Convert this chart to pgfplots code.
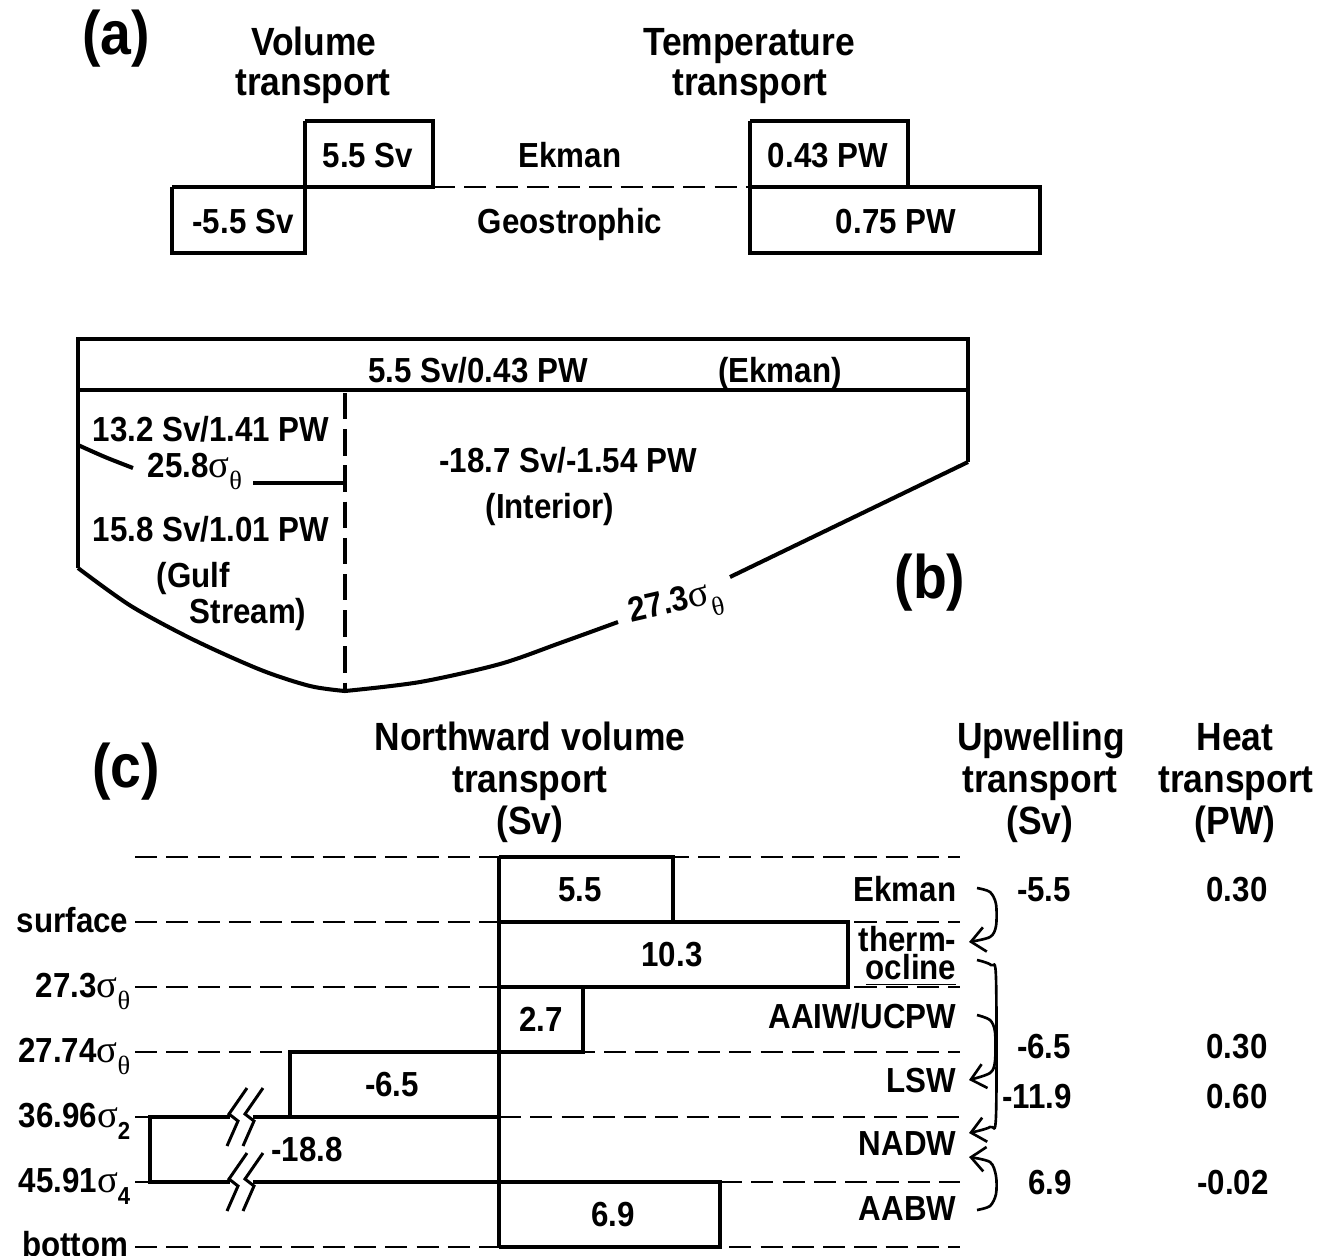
\documentclass[border=0pt]{standalone}
\usepackage{pgfplots}
\pgfplotsset{compat=1.18}
\usetikzlibrary{arrows.meta}
\usepackage{fontspec}
\setmainfont{Liberation Sans}[FakeStretch=0.9]
\newfontfamily\gr{Liberation Serif}
\newcommand{\sgt}{{\gr\mdseries\fontsize{11}{12}\selectfont σ}\raisebox{-3.6pt}{\fontsize{7.5}{8}\selectfont\gr\mdseries θ}}
\newcommand{\sgn}[1]{{\gr\mdseries\fontsize{11}{12}\selectfont σ}\raisebox{-3.6pt}{\fontsize{7}{8}\selectfont\bfseries #1}}
\tikzset{
  lab/.style={font=\fontsize{9.9}{11}\selectfont\bfseries, inner sep=0pt},
  hdr/.style={font=\fontsize{11.2}{12}\selectfont\bfseries, inner sep=0pt},
  big/.style={font=\fontsize{17.5}{19}\selectfont\bfseries, inner sep=0pt},
}
\pgfplotsset{
  box/.style={black, line width=1.15pt, line join=miter, mark=none},
  dsh/.style={black, line width=0.8pt, dash pattern=on 6.3pt off 2.6pt, mark=none},
  dshb/.style={black, line width=0.9pt, dash pattern=on 7.5pt off 2.8pt, mark=none},
  thin/.style={black, line width=0.85pt, mark=none},
  arr/.style={black, line width=0.75pt, mark=none, smooth, -{Straight Barb[length=4pt,width=7pt]}},
}
\begin{document}
\begin{tikzpicture}
\path[use as bounding box] (0,0) rectangle (13.28cm,12.55cm);
\clip (0,0) rectangle (13.28cm,12.55cm);
\begin{axis}[at={(0,0)}, anchor=south west, scale only axis,
  width=13.28cm, height=12.55cm, xmin=0, xmax=1328, ymin=0, ymax=1255,
  y dir=reverse, hide axis, clip=false]
\addplot[draw=none, mark=none] coordinates {(0,0) (1328,1255)};
% ---------------- (a)
\addplot[box] coordinates {(305,121) (433,121) (433,187) (305,187) (305,121)};
\addplot[box] coordinates {(172,187) (305,187) (305,253) (172,253) (172,187)};
\addplot[box] coordinates {(750,121) (908,121) (908,187) (750,187) (750,121)};
\addplot[box] coordinates {(750,187) (1040,187) (1040,253) (750,253) (750,187)};
\addplot[dsh] coordinates {(433,187) (750,187)};
\node[big, anchor=base] at (axis cs:116,54) {(a)};
\node[hdr, anchor=base] at (axis cs:314,55) {Volume};
\node[hdr, anchor=base] at (axis cs:313,95) {transport};
\node[hdr, anchor=base] at (axis cs:749,55) {Temperature};
\node[hdr, anchor=base] at (axis cs:750,95) {transport};
\node[lab, anchor=base] at (axis cs:368,167) {5.5 Sv};
\node[lab, anchor=base] at (axis cs:243,233) {-5.5 Sv};
\node[lab, anchor=base] at (axis cs:570,167) {Ekman};
\node[lab, anchor=base] at (axis cs:570,233) {Geostrophic};
\node[lab, anchor=base] at (axis cs:828,167) {0.43 PW};
\node[lab, anchor=base] at (axis cs:896,233) {0.75 PW};
% ---------------- (b)
\addplot[box] coordinates {(78,568) (78,339) (968,339) (968,462)};
\addplot[box] coordinates {(78,390) (968,390)};
\addplot[box, smooth] coordinates {(78,568) (131,606) (194,640) (261,670) (310,686) (345,691)};
\addplot[box, smooth] coordinates {(345,691) (420,682) (500,664) (560,643) (618,622)};
\addplot[box] coordinates {(730,577) (968,462)};
\addplot[dshb] coordinates {(345,393) (345,691)};
\addplot[box, smooth] coordinates {(78,445) (105,457) (133,468)};
\addplot[box] coordinates {(253,483) (345,483)};
\node[lab, anchor=base] at (axis cs:478,382) {5.5 Sv/0.43 PW};
\node[lab, anchor=base] at (axis cs:780,382) {(Ekman)};
\node[lab, anchor=base] at (axis cs:211,441) {13.2 Sv/1.41 PW};
\node[lab, anchor=base west] at (axis cs:147,477) {25.8\sgt};
\node[lab, anchor=base] at (axis cs:211,541) {15.8 Sv/1.01 PW};
\node[lab, anchor=base west] at (axis cs:156,587) {(Gulf};
\node[lab, anchor=base west] at (axis cs:189,623) {Stream)};
\node[lab, anchor=base] at (axis cs:568,472) {-18.7 Sv/-1.54 PW};
\node[lab, anchor=base] at (axis cs:550,518) {(Interior)};
\node[big, anchor=base] at (axis cs:930,598) {(b)};
\node[lab, anchor=center, rotate=13] at (axis cs:676,606) {27.3\sgt};
% ---------------- (c)
\addplot[dsh] coordinates {(135,857) (960,857)};
\addplot[dsh] coordinates {(135,922) (960,922)};
\addplot[dsh] coordinates {(135,987) (960,987)};
\addplot[dsh] coordinates {(135,1052) (960,1052)};
\addplot[dsh] coordinates {(135,1117) (150,1117)};
\addplot[dsh] coordinates {(499,1117) (960,1117)};
\addplot[dsh] coordinates {(135,1182) (150,1182)};
\addplot[dsh] coordinates {(720,1182) (960,1182)};
\addplot[dsh] coordinates {(135,1247) (960,1247)};
\addplot[box] coordinates {(499,857) (499,1247)};
\addplot[box] coordinates {(499,857) (673,857) (673,922)};
\addplot[box] coordinates {(499,922) (848,922) (848,987) (499,987)};
\addplot[box] coordinates {(583,987) (583,1052) (290,1052) (290,1117)};
\addplot[box] coordinates {(230,1117) (150,1117) (150,1182) (230,1182)};
\addplot[box] coordinates {(253,1117) (499,1117)};
\addplot[box] coordinates {(253,1182) (720,1182) (720,1247) (499,1247)};
% break marks
\addplot[thin] coordinates {(247,1088) (229,1114) (238,1121) (227,1146)};
\addplot[thin] coordinates {(263,1088) (245,1114) (254,1121) (243,1146)};
\addplot[thin] coordinates {(247,1153) (229,1179) (238,1186) (227,1211)};
\addplot[thin] coordinates {(263,1153) (245,1179) (254,1186) (243,1211)};
% arrows
\addplot[arr] coordinates {(977,888) (990,892) (996,904) (996,926) (990,937) (969,942)};
\addplot[arr] coordinates {(977,960) (991,965) (996,978) (996,1116) (990,1127) (969,1133)};
\addplot[arr] coordinates {(977,1015) (990,1020) (995,1032) (995,1061) (990,1073) (969,1080)};
\addplot[arr] coordinates {(977,1210) (990,1206) (996,1194) (996,1176) (990,1162) (969,1157)};
% headers
\node[big, anchor=base] at (axis cs:126,787) {(c)};
\node[hdr, anchor=base] at (axis cs:530,750) {Northward volume};
\node[hdr, anchor=base] at (axis cs:530,792) {transport};
\node[hdr, anchor=base] at (axis cs:530,834) {(Sv)};
\node[hdr, anchor=base] at (axis cs:1041,750) {Upwelling};
\node[hdr, anchor=base] at (axis cs:1040,792) {transport};
\node[hdr, anchor=base] at (axis cs:1040,834) {(Sv)};
\node[hdr, anchor=base] at (axis cs:1235,750) {Heat};
\node[hdr, anchor=base] at (axis cs:1236,792) {transport};
\node[hdr, anchor=base] at (axis cs:1235,834) {(PW)};
% bar values
\node[lab, anchor=base] at (axis cs:580,901) {5.5};
\node[lab, anchor=base] at (axis cs:672,966) {10.3};
\node[lab, anchor=base] at (axis cs:541,1031) {2.7};
\node[lab, anchor=base] at (axis cs:392,1096) {-6.5};
\node[lab, anchor=base] at (axis cs:307,1161) {-18.8};
\node[lab, anchor=base] at (axis cs:613,1226) {6.9};
% water masses
\node[lab, anchor=base east] at (axis cs:957,901) {Ekman};
\node[lab, anchor=base east] at (axis cs:957,951) {therm-};
\node[lab, anchor=base east] at (axis cs:957,979) {\underline{ocline}};
\node[lab, anchor=base east] at (axis cs:957,1028) {AAIW/UCPW};
\node[lab, anchor=base east] at (axis cs:957,1092) {LSW};
\node[lab, anchor=base east] at (axis cs:957,1155) {NADW};
\node[lab, anchor=base east] at (axis cs:957,1220) {AABW};
% left labels
\node[lab, anchor=base east] at (axis cs:129,932) {surface};
\node[lab, anchor=base east] at (axis cs:131,997) {27.3\sgt};
\node[lab, anchor=base east] at (axis cs:131,1062) {27.74\sgt};
\node[lab, anchor=base east] at (axis cs:131,1127) {36.96\sgn{2}};
\node[lab, anchor=base east] at (axis cs:131,1192) {45.91\sgn{4}};
\node[lab, anchor=base east] at (axis cs:129,1256) {bottom};
% upwelling and heat
\node[lab, anchor=base] at (axis cs:1044,901) {-5.5};
\node[lab, anchor=base] at (axis cs:1044,1058) {-6.5};
\node[lab, anchor=base] at (axis cs:1037,1108) {-11.9};
\node[lab, anchor=base] at (axis cs:1050,1194) {6.9};
\node[lab, anchor=base] at (axis cs:1237,901) {0.30};
\node[lab, anchor=base] at (axis cs:1237,1058) {0.30};
\node[lab, anchor=base] at (axis cs:1237,1108) {0.60};
\node[lab, anchor=base] at (axis cs:1233,1194) {-0.02};
\end{axis}
\end{tikzpicture}
\end{document}
